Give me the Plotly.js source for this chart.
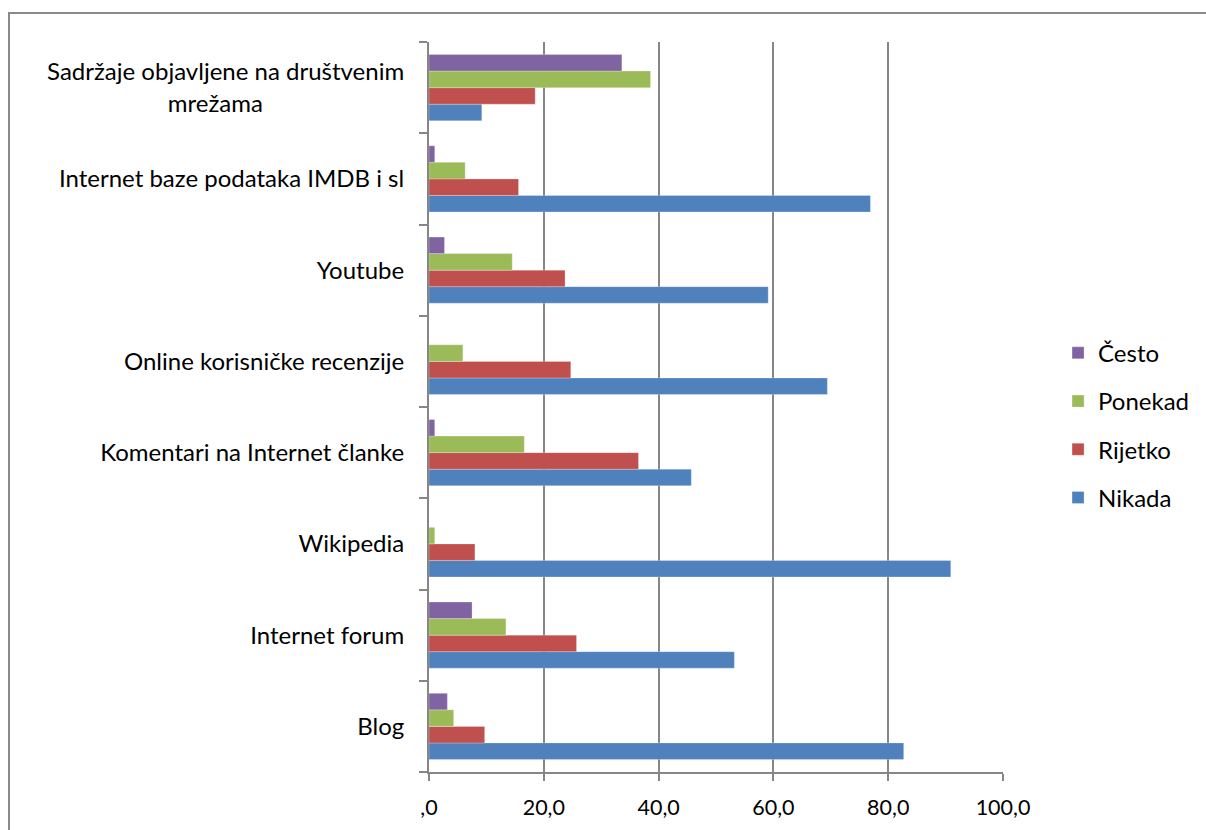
<!DOCTYPE html>
<html>
<head>
<meta charset="utf-8">
<script src="https://cdn.plot.ly/plotly-3.0.1.min.js"></script>
<style>
html,body{margin:0;padding:0;background:#fff;overflow:hidden;}
#frame{position:absolute;left:8px;top:12px;width:1400px;height:1000px;border:2px solid #8a8a8a;box-sizing:border-box;}
#chart{position:absolute;left:0;top:0;width:1206px;height:830px;}
</style>
</head>
<body>
<div id="frame"></div>
<div id="chart"></div>
<script>
const categories = [
  "Blog",
  "Internet forum",
  "Wikipedia",
  "Komentari na Internet članke",
  "Online korisničke recenzije",
  "Youtube",
  "Internet baze podataka IMDB i sl",
  "Sadržaje objavljene na društvenim mrežama"
];
const categoryLabels = [
  "Blog",
  "Internet forum",
  "Wikipedia",
  "Komentari na Internet članke",
  "Online korisničke recenzije",
  "Youtube",
  "Internet baze podataka IMDB i sl",
  "Sadržaje objavljene na društvenim<br>mrežama" + "\u00A0".repeat(23)
];
const nikada  = [82.7, 53.2, 90.9, 45.7, 69.4, 59.1, 76.9, 9.2];
const rijetko = [9.7, 25.7, 8.0, 36.5, 24.7, 23.7, 15.6, 18.5];
const ponekad = [4.3, 13.4, 1.0, 16.6, 5.9, 14.5, 6.3, 38.6];
const cesto   = [3.2, 7.5, 0.0, 1.0, 0.0, 2.7, 1.0, 33.6];
const seriesNames = ["Nikada", "Rijetko", "Ponekad", "Često"];
const seriesColors = ["#4F81BD", "#C0504D", "#9BBB59", "#8064A2"];
const xTickVals = [0, 20, 40, 60, 80, 100];
const xTickText = [",0", "20,0", "40,0", "60,0", "80,0", "100,0"];

const seriesData = [nikada, rijetko, ponekad, cesto];
const traces = seriesData.map((vals, i) => ({
  type: "bar",
  orientation: "h",
  name: seriesNames[i],
  x: vals,
  y: categories,
  legendgroup: "g" + (3 - i),
  legendrank: 10 - i,
  marker: {color: seriesColors[i], line: {color: "rgba(255,255,255,0.5)", width: 0.5}},
  hoverinfo: "x+name"
}));

const fam = "Lato, 'Open Sans', sans-serif";
const yFont = {family: fam, size: 24, color: "#000"};
const xFont = {family: fam, size: 21.5, color: "#000"};
const layout = {
  width: 1206, height: 830,
  margin: {l: 429, r: 202, t: 42, b: 58},
  paper_bgcolor: "rgba(0,0,0,0)",
  plot_bgcolor: "rgba(0,0,0,0)",
  font: yFont,
  barmode: "group",
  bargap: 0.275,
  bargroupgap: 0,
  xaxis: {
    range: [0, 100],
    tickvals: xTickVals,
    ticktext: xTickText,
    showgrid: true,
    gridcolor: "#868686",
    gridwidth: 2,
    zeroline: false,
    showline: true,
    linecolor: "#868686",
    linewidth: 2,
    ticks: "outside",
    ticklen: 7,
    tickwidth: 2,
    tickcolor: "#868686",
    ticklabelstandoff: 8,
    tickfont: xFont,
    fixedrange: true
  },
  yaxis: {
    type: "category",
    categoryorder: "array",
    categoryarray: categories,
    tickvals: categories,
    ticktext: categoryLabels,
    showgrid: false,
    zeroline: false,
    showline: true,
    linecolor: "#868686",
    linewidth: 2,
    ticks: "outside",
    tickson: "boundaries",
    ticklen: 8,
    tickwidth: 2,
    tickcolor: "#868686",
    ticklabelstandoff: 18,
    tickfont: yFont,
    fixedrange: true
  },
  legend: {
    x: 1.094, xanchor: "left",
    y: 0.475, yanchor: "middle",
    traceorder: "grouped",
    tracegroupgap: 14,
    font: yFont,
    bgcolor: "rgba(0,0,0,0)"
  },
  showlegend: true
};

Plotly.newPlot("chart", traces, layout, {displayModeBar: false, staticPlot: true});
</script>
</body>
</html>
